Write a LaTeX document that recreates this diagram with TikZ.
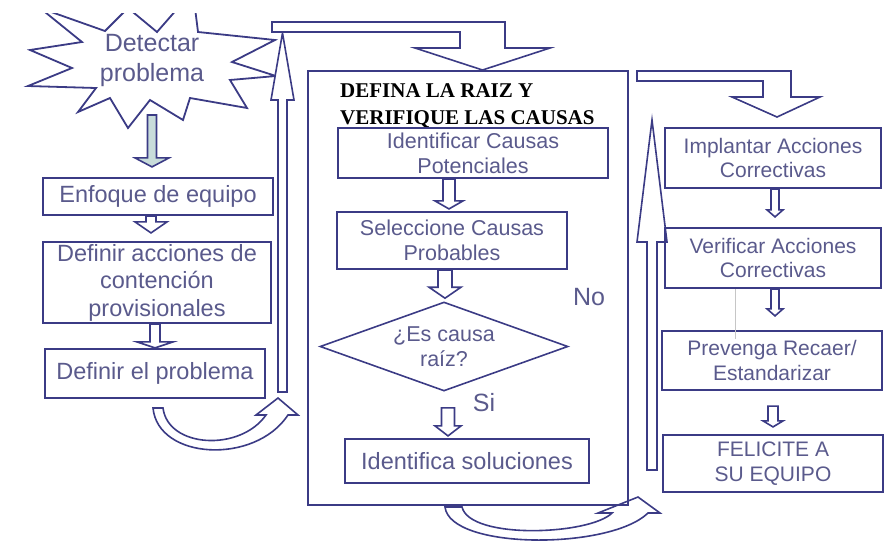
\documentclass[tikz,border=0pt]{standalone}
\usepackage{fontspec}
\setmainfont{Liberation Sans}
\newfontfamily\titulofont{Liberation Serif}
\usetikzlibrary{shapes.geometric,calc}
\definecolor{linea}{HTML}{3B3B85}
\definecolor{texto}{HTML}{5A5A8C}
\definecolor{relleno}{HTML}{C8DCDA}
\tikzstyle{caja}=[draw=linea, line width=2.2pt, text=texto, align=center, inner sep=0pt]
\tikzstyle{flecha}=[draw=linea, line width=1.6pt, fill=white, line join=miter]
\tikzstyle{izq}=[caja, font=\fontsize{23.5}{27.5}\selectfont]
\tikzstyle{medio}=[caja, font=\fontsize{21.5}{25}\selectfont]
\tikzstyle{der}=[caja, font=\fontsize{21}{24.5}\selectfont]
\tikzstyle{letra}=[text=texto, font=\fontsize{25}{30}\selectfont, inner sep=0pt]

% flecha hueca: inicio, punta, medio ancho del tallo, medio ancho de la punta, largo de la punta
\newcommand{\flechaabajo}[6][]{%
  \draw[flecha,#1] let \p1=#2, \p2=#3 in
    (\x2-#4,\y1) -- (\x2-#4,\y2+#6) -- (\x2-#5,\y2+#6) -- (\x2,\y2)
    -- (\x2+#5,\y2+#6) -- (\x2+#4,\y2+#6) -- (\x2+#4,\y1) -- cycle;}
\newcommand{\flechaarriba}[6][]{%
  \draw[flecha,#1] let \p1=#2, \p2=#3 in
    (\x2-#4,\y1) -- (\x2-#4,\y2-#6) -- (\x2-#5,\y2-#6) -- (\x2,\y2)
    -- (\x2+#5,\y2-#6) -- (\x2+#4,\y2-#6) -- (\x2+#4,\y1) -- cycle;}

\begin{document}
\begin{tikzpicture}[x=1pt, y=-1pt]
\useasboundingbox (0,0) rectangle (885,542);

% estrella
\begin{scope}
  \clip (0,13) rectangle (300,140);
  \draw[linea, line width=1.8pt, line join=miter, fill=white]
    (40,8) -- (82,42) -- (30,50) -- (72,68) -- (28,86) -- (96,88) -- (78,112)
    -- (110,98) -- (128,128) -- (150,100) -- (183,120) -- (190,98) -- (247,108)
    -- (230,80) -- (276,76) -- (232,62) -- (275,40) -- (198,32) -- (195,8)
    -- (178,8) -- (157,32) -- (128,8) -- (105,31) -- cycle;
\end{scope}
\node[letra, align=center] (detectar) at (152,60) {Detectar\\problema};

% columna izquierda
\node[izq, minimum width=230pt, minimum height=37pt] (enfoque) at (158,196.5) {Enfoque de equipo};
\node[izq, minimum width=228pt, minimum height=81pt] (contencion) at (157,282.5) {Definir acciones de\\contención\\provisionales};
\node[izq, minimum width=220pt, minimum height=49pt] (problema) at (155,373.5) {Definir el problema};

\flechaabajo[fill=relleno]{(detectar.south |- 0,115)}{([xshift=-6pt,yshift=10pt]enfoque.north)}{4.5pt}{17pt}{9pt}
\flechaabajo{(enfoque.south)}{([xshift=-6pt,yshift=8pt]contencion.north)}{5pt}{16pt}{11pt}
\flechaabajo{(contencion.south)}{(problema.north)}{5pt}{18pt}{6pt}

% vuelta izquierda
\draw[flecha] (153,408) .. controls (158,460) and (255,465) .. (288,415) -- (298,415) -- (278,398)
  -- (256,415) -- (266,415) .. controls (240,452) and (168,448) .. (163,408) -- cycle;

% regreso hacia arriba y codo superior
\coordinate (vuelta1) at (282.5,392);
\coordinate (barra1) at (282.5,33);
\flechaarriba{(vuelta1)}{(barra1)}{4.5pt}{11.5pt}{67pt}
\draw[flecha] (272,22) -- (505,22) -- (505,48) -- (550,48) -- (482.5,70) -- (415,48)
  -- (460,48) -- (460,32) -- (272,32) -- cycle;

% vuelta central
\draw[flecha] (445,507) .. controls (450,550) and (610,550) .. (648,513) -- (660,513) -- (638,497)
  -- (598,513) -- (612,513) .. controls (590,535) and (470,540) .. (462,507) -- cycle;

% marco central
\node[draw=linea, line width=2pt, minimum width=320pt, minimum height=434pt, inner sep=0pt] (marco) at (468,288) {};
\node[font=\titulofont\bfseries\fontsize{21}{27}\selectfont, align=left, anchor=north west, inner sep=0pt]
  (titulo) at ([xshift=33pt,yshift=-13pt]marco.north west) {DEFINA LA RAIZ Y\\VERIFIQUE LAS CAUSAS};
\node[medio, minimum width=270pt, minimum height=50pt] (potenciales) at (473,153) {Identificar Causas\\Potenciales};
\node[medio, minimum width=230pt, minimum height=57pt] (probables) at (452,240.5) {Seleccione Causas\\Probables};
\node[caja, shape=diamond, aspect=2.79, minimum width=248pt, minimum height=89pt, line width=1.6pt,
  font=\fontsize{21.5}{25}\selectfont] (causa) at (444,346.5) {¿Es causa\\raíz?};
\node[izq, minimum width=244pt, minimum height=44pt] (soluciones) at (467,461) {Identifica soluciones};
\node[letra] (no) at (589,297) {No};
\node[letra] (si) at (484,403) {Si};

\flechaabajo{(potenciales.south)}{([xshift=-3pt,yshift=2pt]probables.north)}{6pt}{14pt}{8pt}
\flechaabajo{(probables.south)}{([xshift=1pt,yshift=3pt]causa.north)}{7pt}{16pt}{11pt}
\flechaabajo{([yshift=-16pt]causa.south)}{([xshift=-19pt,yshift=2pt]soluciones.north)}{6.5pt}{13pt}{10pt}

% columna derecha
\coordinate (vuelta2) at (652,470);
\coordinate (barra2) at (652,120);
\flechaarriba{(vuelta2)}{(barra2)}{5pt}{15pt}{122pt}
\draw[flecha] (637,71) -- (791,71) -- (791,97) -- (820,97) -- (777,117) -- (732,97)
  -- (763,97) -- (763,81) -- (637,81) -- cycle;

\node[der, minimum width=216pt, minimum height=60pt] (implantar) at (773,158) {Implantar Acciones\\Correctivas};
\node[der, minimum width=216pt, minimum height=60pt] (verificar) at (773,258) {Verificar Acciones\\Correctivas};
\node[der, minimum width=220pt, minimum height=59pt] (prevenga) at (772,360.5) {Prevenga Recaer/\\Estandarizar};
\node[der, minimum width=220pt, minimum height=57pt] (felicite) at (773,463.5) {FELICITE A\\SU EQUIPO};

\draw[gray!45, line width=0.6pt] ([xshift=-38pt]verificar.south) -- ([xshift=-37pt,yshift=-9pt]prevenga.north);
\flechaabajo{(implantar.south)}{([xshift=2pt,yshift=10pt]verificar.north)}{4pt}{8pt}{7pt}
\flechaabajo{(verificar.south)}{([xshift=3pt,yshift=14pt]prevenga.north)}{4pt}{8pt}{7pt}
\flechaabajo{([yshift=-15pt]prevenga.south)}{([xshift=0pt,yshift=7pt]felicite.north)}{5pt}{10pt}{6pt}
\end{tikzpicture}
\end{document}
